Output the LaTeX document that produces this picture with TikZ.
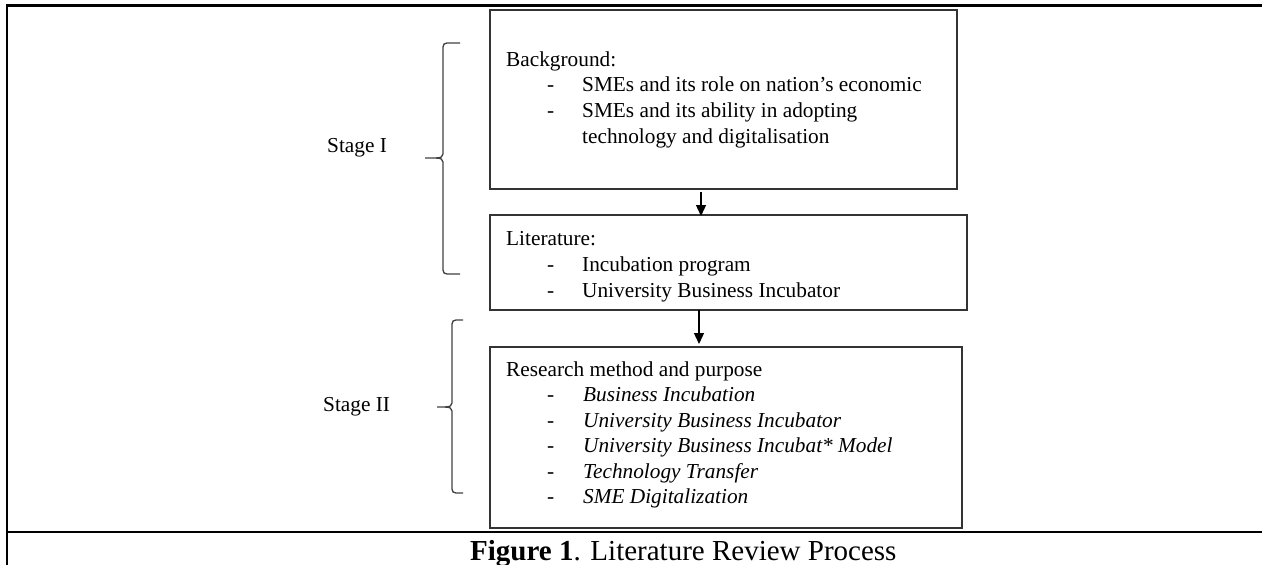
\documentclass[tikz,border=0pt]{standalone}
\usepackage{fontspec}
\setmainfont{Liberation Serif}
\usetikzlibrary{arrows.meta}
\tikzset{
  frameline/.style={line width=2.8pt, black},
  boxnode/.style={draw=black!80, line width=1.4pt, rectangle, inner sep=0pt, outer sep=0pt, anchor=north west},
  txt/.style={anchor=base west, inner sep=0pt, font=\fontsize{21.3}{25}\selectfont},
  itxt/.style={txt, font=\fontsize{21.3}{25}\selectfont\itshape},
  bracepath/.style={draw=black!75, line width=1.3pt},
  flow/.style={-{Triangle[length=11pt,width=10pt]}, line width=1.3pt, black}
}
\begin{document}
\begin{tikzpicture}[x=1pt,y=-1pt]
\useasboundingbox (0,0) rectangle (1262,565);
% outer frame
\coordinate (ftl) at (7,5.5);
\coordinate (ftr) at (1262,5.5);
\coordinate (fbl) at (7,565);
\coordinate (fml) at (7,532);
\coordinate (fmr) at (1262,532);
\draw[frameline] (ftr) -- (ftl) -- (fbl);
\draw[frameline] (fml) -- (fmr);
% boxes
\node[boxnode, minimum width=467pt, minimum height=179pt] (b1) at (490,10) {};
\node[boxnode, minimum width=477pt, minimum height=95pt] (b2) at (490,215) {};
\node[boxnode, minimum width=472pt, minimum height=181pt] (b3) at (490,347) {};
% box 1 text
\node[txt] (t1) at (506,66) {Background:};
\node[txt] (d11) at (547,91) {-};
\node[txt] (t11) at (582,91) {SMEs and its role on nation’s economic};
\node[txt] (d12) at (547,117) {-};
\node[txt] (t12) at (582,117) {SMEs and its ability in adopting};
\node[txt] (t13) at (582,143) {technology and digitalisation};
% box 2 text
\node[txt] (t2) at (506,245) {Literature:};
\node[txt] (d21) at (547,271) {-};
\node[txt] (t21) at (582,271) {Incubation program};
\node[txt] (d22) at (547,297) {-};
\node[txt] (t22) at (582,297) {University Business Incubator};
% box 3 text
\node[txt] (t3) at (506,376) {Research method and purpose};
\node[txt] (d31) at (547,401.5) {-};
\node[itxt] (t31) at (583,401.5) {Business Incubation};
\node[txt] (d32) at (547,427) {-};
\node[itxt] (t32) at (583,427) {University Business Incubator};
\node[txt] (d33) at (547,452.5) {-};
\node[itxt] (t33) at (583,452.5) {University Business Incubat* Model};
\node[txt] (d34) at (547,478) {-};
\node[itxt] (t34) at (583,478) {Technology Transfer};
\node[txt] (d35) at (547,503.5) {-};
\node[itxt] (t35) at (583,503.5) {SME Digitalization};
% arrows
\coordinate (a1s) at (701,192);
\coordinate (a1e) at (701,216);
\coordinate (a2s) at (699,310);
\coordinate (a2e) at (699,344);
\draw[flow] (a1s) -- (a1e);
\draw[flow] (a2s) -- (a2e);
% stage labels
\node[txt] (s1) at (327,152) {Stage I};
\node[txt] (s2) at (323,411) {Stage II};
% braces
\path[bracepath] (460,43) -- (447,43) .. controls (444.5,43) and (443,44.5) .. (443,47) -- (443,154) .. controls (443,156.5) and (441,158) .. (436,158) -- (425,158);
\path[bracepath] (436,158) .. controls (441,158) and (443,159.5) .. (443,162) -- (443,270) .. controls (443,272.5) and (444.5,274) .. (447,274) -- (460,274);
\path[bracepath] (463,320) -- (456,320) .. controls (453.5,320) and (452,321.5) .. (452,324) -- (452,403) .. controls (452,405.5) and (450,407) .. (445,407) -- (437,407);
\path[bracepath] (445,407) .. controls (450,407) and (452,408.5) .. (452,411) -- (452,489) .. controls (452,491.5) and (453.5,493) .. (456,493) -- (463,493);
% caption
\node[anchor=base west, inner sep=0pt, font=\fontsize{29}{33}\selectfont] (cap) at (470,560) {\textbf{Figure 1}. Literature Review Process};
\end{tikzpicture}
\end{document}
